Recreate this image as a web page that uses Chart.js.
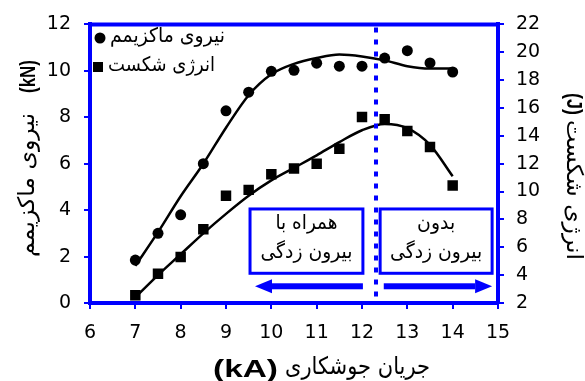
<!DOCTYPE html>
<html>
<head>
<meta charset="utf-8">
<script src="https://cdn.jsdelivr.net/npm/chart.js@4.4.1/dist/chart.umd.min.js"></script>
<style>
  body { margin: 0; background: #fff; }
  #wrap { position: relative; width: 585px; height: 381px; }
</style>
</head>
<body>
<div id="wrap"><canvas id="c"></canvas></div>
<script>
// welding current (kA)
const current = [7, 7.5, 8, 8.5, 9, 9.5, 10, 10.5, 11, 11.5, 12, 12.5, 13, 13.5, 14];
// measured max force (kN) and fracture energy (J)
const forcePts = [1.85, 3.0, 3.8, 6.0, 8.28, 9.08, 9.98, 10.02, 10.33, 10.2, 10.2, 10.55, 10.87, 10.34, 9.95];
const energyPts = [2.55, 4.1, 5.3, 7.3, 9.7, 10.12, 11.25, 11.65, 12.0, 13.08, 15.36, 15.2, 14.35, 13.2, 10.43];
// fitted curves
const forceFit = [1.6, 3.05, 4.6, 6.0, 7.55, 8.95, 9.85, 10.3, 10.55, 10.7, 10.62, 10.45, 10.2, 10.1, 10.1];
const energyFit = [2.4, 4.0, 5.5, 7.0, 8.4, 9.7, 10.8, 11.7, 12.6, 13.55, 14.4, 14.85, 14.55, 13.35, 11.1];

const xTicks = [6, 7, 8, 9, 10, 11, 12, 13, 14, 15];
const legendLabels = ['نیروی ماکزیمم', 'انرژی شکست'];
const xTitle = ['(kA)', 'جریان جوشکاری'];
const yTitle = ['نیروی ماکزیمم', '(kN)'];
const y2Title = ['(J)', 'انرژی شکست'];
const boxLeft = ['همراه با', 'بیرون زدگی'];
const boxRight = ['بدون', 'بیرون زدگی'];
const splitAt = 12.3;

const BLUE = '#0000ff';
const LAT = '"Liberation Sans", Arial, sans-serif';
const FA = '"DejaVu Sans", sans-serif';

const pts = arr => current.map((x, i) => ({ x: x, y: arr[i] }));

// draw text so that it fills a given length (the source picture is stretched)
function fitText(ctx, text, font, x0, x1, y, cross) {
  ctx.font = font;
  const w = ctx.measureText(text).width;
  ctx.save();
  ctx.translate(x0, y);
  ctx.scale((x1 - x0) / w, cross || 1);
  ctx.textAlign = 'left';
  ctx.textBaseline = 'middle';
  ctx.fillText(text, 0, 0);
  ctx.restore();
}

const extras = {
  id: 'extras',
  afterDraw(chart) {
    const ctx = chart.ctx;
    const a = chart.chartArea;
    const sx = chart.scales.x, sy = chart.scales.y;
    ctx.save();
    ctx.strokeStyle = BLUE;
    ctx.lineWidth = 4;
    ctx.beginPath();
    ctx.moveTo(a.left - 2, a.top);
    ctx.lineTo(a.right + 2, a.top);
    ctx.stroke();

    // dotted split line
    const xs = Math.round(sx.getPixelForValue(splitAt));
    ctx.setLineDash([5, 7]);
    ctx.beginPath();
    ctx.moveTo(xs, a.top + 3);
    ctx.lineTo(xs, a.bottom);
    ctx.stroke();
    ctx.setLineDash([]);

    // boxes
    const box = (x0, x1, lines, w1) => {
      const l = sx.getPixelForValue(x0), r = sx.getPixelForValue(x1);
      const t = sy.getPixelForValue(4.05), b = sy.getPixelForValue(1.28);
      ctx.lineWidth = 3;
      ctx.strokeStyle = BLUE;
      ctx.fillStyle = '#fff';
      ctx.fillRect(l, t, r - l, b - t);
      ctx.strokeRect(l, t, r - l, b - t);
      ctx.fillStyle = '#000';
      const cx = (l + r) / 2;
      fitText(ctx, lines[0], '20px ' + FA, cx - w1 / 2, cx + w1 / 2, t + 15);
      fitText(ctx, lines[1], '20px ' + FA, cx - 46, cx + 46, t + 44);
    };
    box(9.53, 12.02, boxLeft, 62);
    box(12.4, 14.87, boxRight, 38);

    // arrows
    const ay = sy.getPixelForValue(0.72);
    const arrow = (from, to) => {
      const x0 = sx.getPixelForValue(from), x1 = sx.getPixelForValue(to);
      const dir = x1 > x0 ? 1 : -1;
      const hx = x1 - dir * 17;
      ctx.fillStyle = BLUE;
      ctx.fillRect(Math.min(x0, hx), ay - 3, Math.abs(hx - x0), 6);
      ctx.beginPath();
      ctx.moveTo(x1, ay);
      ctx.lineTo(hx, ay - 7);
      ctx.lineTo(hx, ay + 7);
      ctx.closePath();
      ctx.fill();
    };
    arrow(12.02, 9.64);
    arrow(12.48, 14.87);

    // legend
    ctx.fillStyle = '#000';
    ctx.beginPath();
    ctx.arc(100, 38, 5.5, 0, Math.PI * 2);
    ctx.fill();
    ctx.fillRect(93, 62, 10, 10);
    fitText(ctx, legendLabels[0], '20px ' + FA, 110, 225, 37);
    fitText(ctx, legendLabels[1], '20px ' + FA, 108, 215, 66);

    // axis titles with bold units
    fitText(ctx, xTitle[0], 'bold 24px ' + LAT, 213, 278, 370);
    fitText(ctx, xTitle[1], '24px ' + FA, 285, 430, 368);

    ctx.save();
    ctx.translate(28, 0);
    ctx.rotate(-Math.PI / 2);
    fitText(ctx, yTitle[0], '19px ' + FA, -257, -113, 0, 1.2);
    fitText(ctx, yTitle[1], 'bold 18px ' + LAT, -93, -60, 1, 1.25);
    ctx.restore();

    ctx.save();
    ctx.translate(573, 0);
    ctx.rotate(Math.PI / 2);
    fitText(ctx, y2Title[0], 'bold 18px ' + LAT, 93, 115, 0, 1.25);
    fitText(ctx, y2Title[1], '19px ' + FA, 120, 260, 0, 1.2);
    ctx.restore();
    ctx.restore();
  }
};

const tickFont = { family: FA, size: 19 };

new Chart(document.getElementById('c'), {
  type: 'scatter',
  data: {
    datasets: [
      { data: pts(forceFit), yAxisID: 'y', showLine: true, cubicInterpolationMode: 'monotone', borderColor: '#000', borderWidth: 2.5, pointRadius: 0, fill: false },
      { data: pts(energyFit), yAxisID: 'y2', showLine: true, cubicInterpolationMode: 'monotone', borderColor: '#000', borderWidth: 2.5, pointRadius: 0, fill: false },
      { data: pts(forcePts), yAxisID: 'y', pointStyle: 'circle', pointRadius: 5.5, backgroundColor: '#000', borderColor: '#000', borderWidth: 0 },
      { data: pts(energyPts), yAxisID: 'y2', pointStyle: 'rect', pointRadius: 7.4, backgroundColor: '#000', borderColor: '#000', borderWidth: 0 }
    ]
  },
  options: {
    responsive: true,
    maintainAspectRatio: false,
    animation: false,
    layout: { padding: { top: 19, left: 0, right: 0, bottom: 0 } },
    plugins: { legend: { display: false }, tooltip: { enabled: false } },
    scales: {
      x: {
        type: 'linear', position: 'bottom', min: 6, max: 15,
        afterBuildTicks: s => { s.ticks = xTicks.map(v => ({ value: v })); },
        afterFit: s => { s.height = 78; },
        ticks: { color: '#000', font: tickFont, padding: 13, maxRotation: 0 },
        grid: { drawOnChartArea: false, color: BLUE, lineWidth: 2, tickLength: 6 },
        border: { color: BLUE, width: 4 }
      },
      y: {
        position: 'left', min: 0, max: 12,
        afterFit: s => { s.width = 90; },
        ticks: { stepSize: 2, color: '#000', font: tickFont, padding: 13 },
        grid: { drawOnChartArea: false, color: BLUE, lineWidth: 2, tickLength: 6 },
        border: { color: BLUE, width: 4 }
      },
      y2: {
        position: 'right', min: 2, max: 22,
        afterFit: s => { s.width = 87; },
        ticks: { stepSize: 2, color: '#000', font: tickFont, padding: 12 },
        grid: { drawOnChartArea: false, color: BLUE, lineWidth: 2, tickLength: 6 },
        border: { color: BLUE, width: 4 }
      }
    }
  },
  plugins: [extras]
});
</script>
</body>
</html>
